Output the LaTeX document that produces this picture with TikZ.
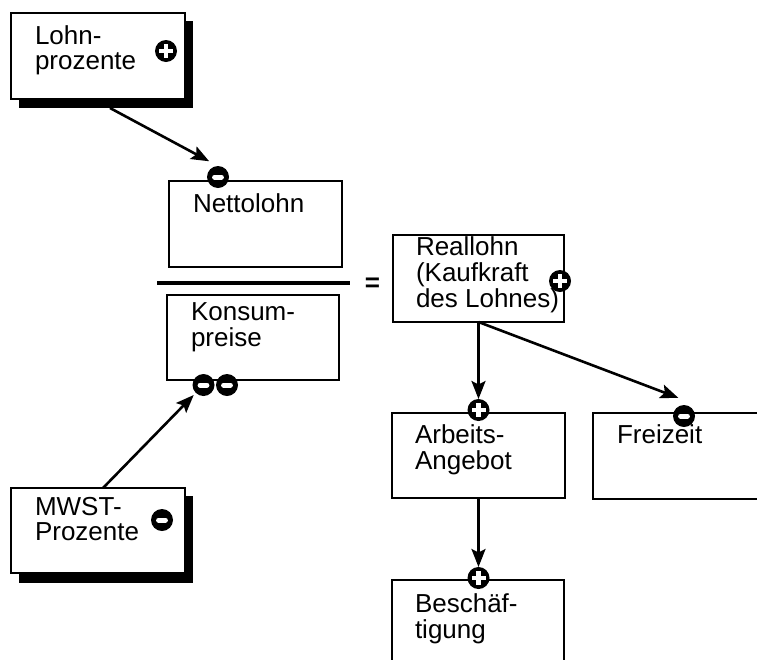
\documentclass[tikz,border=0pt]{standalone}
\usepackage{fontspec}
\setmainfont{Liberation Sans}
\usetikzlibrary{arrows.meta}
\tikzset{
  box/.style={draw=black, line width=1.3pt, fill=white, rectangle, anchor=north west, inner sep=0pt, outer sep=0pt},
  shadowbox/.style={fill=black, rectangle, anchor=north west, inner sep=0pt, outer sep=0pt},
  lbl/.style={font=\fontsize{26}{25.5}\selectfont, inner sep=0pt, outer sep=0pt, anchor=base west},
  signbase/.style={circle, fill=black, minimum size=22pt, inner sep=0pt, outer sep=0pt},
  possign/.style={signbase, path picture={
     \fill[white] ([shift={(-7pt,-2.4pt)}]path picture bounding box.center) rectangle ([shift={(7pt,2.4pt)}]path picture bounding box.center);
     \fill[white] ([shift={(-2.4pt,-7pt)}]path picture bounding box.center) rectangle ([shift={(2.4pt,7pt)}]path picture bounding box.center);}},
  negsign/.style={signbase, path picture={
     \draw[white, line width=5pt, line cap=round] ([xshift=-3.4pt]path picture bounding box.center) -- ([xshift=3.4pt]path picture bounding box.center);}},
  arr/.style={-{Stealth[length=18pt,width=14pt,inset=3.5pt]}, line width=2.6pt, black},
}
\newcommand{\twolines}[2]{\begin{tabular}[t]{@{}l@{}}#1\\#2\end{tabular}}
\newcommand{\threelines}[3]{\begin{tabular}[t]{@{}l@{}}#1\\#2\\#3\end{tabular}}
\begin{document}
\begin{tikzpicture}[x=1pt, y=-1pt]
\useasboundingbox (0,0) rectangle (757,659);
\clip (0,0) rectangle (757,659);
\fill[white] (0,0) rectangle (757,659);

% Lohnprozente
\node[shadowbox, minimum width=174pt, minimum height=87pt] (lohnsh) at (19,21) {};
\node[box, minimum width=174pt, minimum height=86pt] (lohn) at (11,13) {};
\node[lbl] (tlohn) at (35,44) {\twolines{Lohn-}{prozente}};
\node[possign] (lp) at (166,51) {};

% Nettolohn
\node[box, minimum width=173pt, minimum height=86pt] (netto) at (169,181) {};
\node[lbl] (tnetto) at (193,212) {Nettolohn};

% fraction bar and equals
\coordinate (fbl) at (157,283);
\coordinate (fbr) at (350,283);
\draw[line width=4.5pt] (fbl) -- (fbr);
\node[font=\fontsize{26}{26}\selectfont\bfseries, inner sep=0pt, anchor=base] (eq) at (372.5,291.5) {=};

% Konsumpreise
\node[box, minimum width=172pt, minimum height=85pt] (konsum) at (167,295) {};
\node[lbl] (tkonsum) at (191,320) {\twolines{Konsum-}{preise}};

% Reallohn
\node[box, minimum width=171pt, minimum height=87pt] (real) at (393,235) {};
\node[lbl] (treal) at (416,255) {\threelines{Reallohn}{(Kaufkraft}{des Lohnes)}};

% Arbeits-Angebot
\node[box, minimum width=173pt, minimum height=85pt] (arb) at (392,413) {};
\node[lbl] (tarb) at (415,443) {\twolines{Arbeits-}{Angebot}};

% Freizeit
\node[box, minimum width=180pt, minimum height=86pt] (frei) at (593,413) {};
\node[lbl] (tfrei) at (617,443) {Freizeit};

% Beschaeftigung
\node[box, minimum width=172pt, minimum height=100pt] (besch) at (392,580) {};
\node[lbl] (tbesch) at (415,612) {\twolines{Beschäf-}{tigung}};

% MWST-Prozente
\node[shadowbox, minimum width=174pt, minimum height=87pt] (mwstsh) at (19,496) {};
\node[box, minimum width=174pt, minimum height=85pt] (mwst) at (11,488) {};
\node[lbl] (tmwst) at (35,515) {\twolines{MWST-}{Prozente}};
\node[negsign] (mm) at (162,520) {};

% signs
\node[negsign] (nm) at (218,177) {};
\node[negsign] (km1) at (203.5,385) {};
\node[negsign] (km2) at (227,385) {};
\node[possign] (rp) at (560,281) {};
\node[possign] (ap) at (478.5,410) {};
\node[negsign] (fm) at (684,416) {};
\node[possign] (bp) at (478.5,578) {};

% arrows
\draw[arr, shorten >=10pt] ([xshift=4pt]lohnsh.south) -- (nm.north);
\draw[arr, shorten >=3pt] ([xshift=5pt]mwst.north) -- (km1);
\draw[arr] (real.south) -- (ap);
\draw[arr, shorten >=6pt] (real.south) -- ([yshift=5pt]fm.north);
\draw[arr] (arb.south) -- (bp);
\end{tikzpicture}
\end{document}
